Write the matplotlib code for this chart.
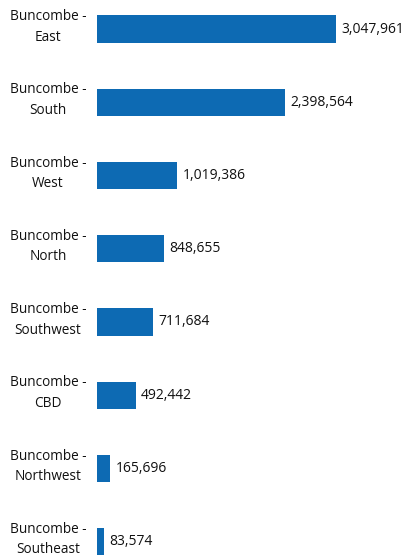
import matplotlib.pyplot as plt
import matplotlib.transforms as mtransforms

regions = ["East", "South", "West", "North", "Southwest", "CBD", "Northwest", "Southeast"]
values = [3047961, 2398564, 1019386, 848655, 711684, 492442, 165696, 83574]

plt.rcParams['font.family'] = ['Open Sans', 'DejaVu Sans']

fig = plt.figure(figsize=(4.09, 5.6), dpi=100)
ax = fig.add_axes([97 / 409, 0, 312 / 409, 1])

pos = list(range(len(regions)))
ax.barh(pos, values, height=0.37, color='#0d6ab3')
ax.set_xlim(0, 3.98e6)
ax.set_ylim(7.25, -0.396)
ax.axis('off')

# value labels just right of each bar
for p, v in zip(pos, values):
    ax.text(v + 7e4, p, f"{v:,}", va='center', ha='left', fontsize=10, color='#111111')

# two-line category labels in the left margin
trans = mtransforms.blended_transform_factory(fig.transFigure, ax.transData)
for p, r in zip(pos, regions):
    ax.text(48 / 409, p - 0.03, f"Buncombe -\n{r}", transform=trans, ha='center', va='center',
            fontsize=9.8, color='#111111', linespacing=1.5)

fig.savefig('out.png', dpi=100)
